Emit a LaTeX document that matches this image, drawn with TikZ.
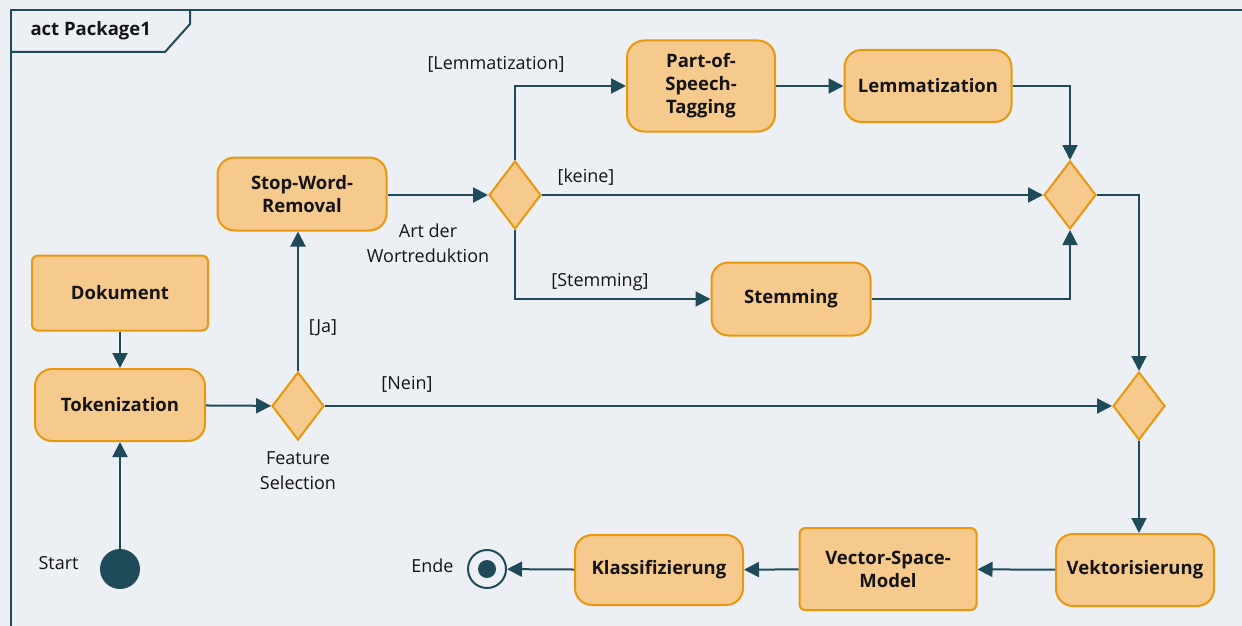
\documentclass[tikz,border=0pt]{standalone}
\usepackage{fontspec}
\setmainfont{Open Sans}
\usepackage{xcolor}
\usetikzlibrary{arrows.meta,calc,positioning,shapes.geometric}
\definecolor{umlBack}{HTML}{ECF0F4}
\definecolor{umlFill}{HTML}{F6CA8C}
\definecolor{umlEdge}{HTML}{E8970F}
\definecolor{umlLine}{HTML}{1F4A5A}
\definecolor{umlText}{HTML}{141414}

\tikzset{
  action/.style={draw=umlEdge, fill=umlFill, line width=2pt, rounded corners=17pt,
    align=center, text=umlText, font=\fontsize{18.5}{23}\selectfont\bfseries, inner sep=0pt},
  object/.style={action, rounded corners=6pt},
  decision/.style={draw=umlEdge, fill=umlFill, line width=2pt, diamond, inner sep=0pt,
    minimum width=52pt, minimum height=68pt},
  flow/.style={draw=umlLine, line width=2pt, -{Triangle[length=15pt,width=15pt]}},
  guard/.style={text=umlText, font=\fontsize{18}{25}\selectfont, align=center},
}

\begin{document}
\begin{tikzpicture}[x=1pt,y=-1pt]
    \useasboundingbox (0,0) rectangle (1242,626);
    \fill[umlBack] (0,0) rectangle (1242,626);
    % frame and title tab
    \draw[umlLine, line width=2pt] (11,626) -- (11,10) -- (1242,10);
    \draw[umlLine, line width=2pt] (11,52) -- (165,52) -- (190,24) -- (190,10);
    \node[anchor=west, text=umlText, font=\fontsize{18.5}{22}\selectfont\bfseries] (title) at (27,31) {act Package1};

    \node[object, minimum width=176pt, minimum height=75pt] (dokument) at (120,293) {Dokument};
    \node[action, minimum width=170pt, minimum height=72pt] (tokenization) at (120,405) {Tokenization};
    \node[circle, fill=umlLine, minimum size=40pt, inner sep=0pt] (start) at (120,569) {};
    \node[guard, anchor=east] (startlbl) at (82,563) {Start};

    \node[decision] (featsel) at (298,406) {};
    \node[guard] (featlbl) at (298,471) {Feature\\Selection};
    \node[action, minimum width=169pt, minimum height=73pt] (stopword) at (302,194) {Stop-Word-\\Removal};

    \node[decision] (wortred) at (515,195) {};
    \node[guard] (wortlbl) at (428,243) {Art der\\Wortreduktion};
    \node[action, minimum width=148pt, minimum height=91pt] (postag) at (701,86) {Part-of-\\Speech-\\Tagging};
    \node[action, minimum width=167pt, minimum height=72pt] (lemma) at (928,86) {Lemmatization};
    \node[action, minimum width=159pt, minimum height=73pt] (stemming) at (791,299) {Stemming};
    \node[decision] (merge) at (1070,195) {};
    \node[decision] (join) at (1139,406) {};

    \node[action, minimum width=158pt, minimum height=72pt] (vektor) at (1135,570) {Vektorisierung};
    \node[object, minimum width=177pt, minimum height=82pt] (vsm) at (888,569) {Vector-Space-\\Model};
    \node[action, minimum width=168pt, minimum height=70pt] (klass) at (659,570) {Klassifizierung};
    \node[circle, draw=umlLine, line width=2pt, minimum size=38pt, inner sep=0pt] (ende) at (487,569) {};
    \node[circle, fill=umlLine, minimum size=18pt, inner sep=0pt] (endedot) at (ende) {};
    \node[guard, anchor=east] (endelbl) at (457,566) {Ende};

    % guards
    \node[guard] (jalbl) at (323,328) {[Ja]};
    \node[guard] (neinlbl) at (407,384) {[Nein]};
    \node[guard] (lemlbl) at (496,64) {[Lemmatization]};
    \node[guard] (keinelbl) at (586,177) {[keine]};
    \node[guard] (stemlbl) at (600,282) {[Stemming]};

    % flows
    \draw[flow] (dokument) -- (tokenization);
    \draw[flow] (start) -- (tokenization);
    \draw[flow] (tokenization) -- (featsel);
    \draw[flow] (featsel.north) -- (featsel.north |- stopword.south);
    \draw[flow] (featsel) -- (join);
    \draw[flow] (stopword.east |- wortred.west) -- (wortred.west);
    \draw[flow] (wortred.north) |- (postag.west);
    \draw[flow] (wortred) -- (merge);
    \draw[flow] (wortred.south) |- (stemming.west);
    \draw[flow] (postag.east |- lemma.west) -- (lemma.west);
    \draw[flow] (lemma.east) -| (merge.north);
    \draw[flow] (stemming.east) -| (merge.south);
    \draw[flow] (merge.east) -| (join.north);
    \draw[flow] (join.south) -- (join.south |- vektor.north);
    \draw[flow] (vektor) -- (vsm);
    \draw[flow] (vsm) -- (klass);
    \draw[flow] (klass) -- (ende);
  \end{tikzpicture}
\end{document}
